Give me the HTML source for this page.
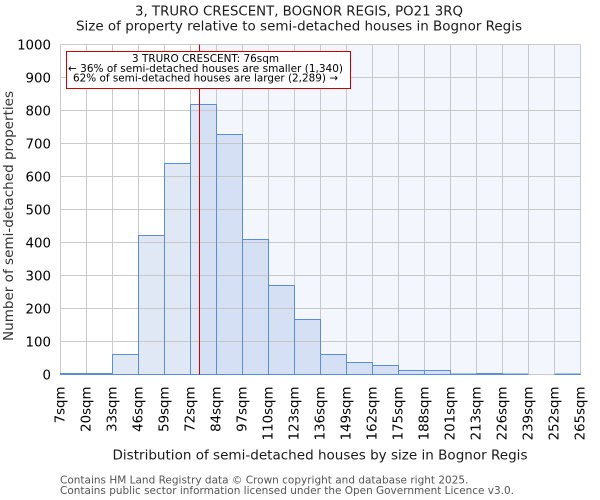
<!DOCTYPE html>
<html>
<head>
<meta charset="utf-8">
<style>
  html, body { margin: 0; padding: 0; background: #ffffff; }
  svg { display: block; }
  text { font-family: "DejaVu Sans", "Liberation Sans", sans-serif; }
</style>
</head>
<body>
<svg width="600" height="500" viewBox="0 0 600 500" xmlns="http://www.w3.org/2000/svg">
  <rect x="0" y="0" width="600" height="500" fill="#ffffff"/>

  <!-- Titles -->
  <text x="299" y="15.5" font-size="13" fill="#1a1a1a" text-anchor="middle" textLength="328" lengthAdjust="spacingAndGlyphs">3, TRURO CRESCENT, BOGNOR REGIS, PO21 3RQ</text>
  <text x="299" y="30.5" font-size="13" fill="#1a1a1a" text-anchor="middle" textLength="446" lengthAdjust="spacingAndGlyphs">Size of property relative to semi-detached houses in Bognor Regis</text>

  <!-- Shaded region right of marker -->
  <rect x="199.5" y="44.5" width="381" height="330" fill="#f3f6fd"/>

  <!-- Bars -->
  <g fill="rgb(100,140,210)" fill-opacity="0.2" stroke="#5b8ed8" stroke-width="1">
    <rect x="60.5" y="373.5" width="26" height="1"/>
    <rect x="86.5" y="373.5" width="26" height="1"/>
    <rect x="112.5" y="354.5" width="26" height="20"/>
    <rect x="138.5" y="235.5" width="26" height="139"/>
    <rect x="164.5" y="163.5" width="26" height="211"/>
    <rect x="190.5" y="104.5" width="26" height="270"/>
    <rect x="216.5" y="134.5" width="26" height="240"/>
    <rect x="242.5" y="239.5" width="26" height="135"/>
    <rect x="268.5" y="285.5" width="26" height="89"/>
    <rect x="294.5" y="319.5" width="26" height="55"/>
    <rect x="320.5" y="354.5" width="26" height="20"/>
    <rect x="346.5" y="362.5" width="26" height="12"/>
    <rect x="372.5" y="365.5" width="26" height="9"/>
    <rect x="398.5" y="370.5" width="26" height="4"/>
    <rect x="424.5" y="370.5" width="26" height="4"/>
    <rect x="450.5" y="374" width="26" height="0.5"/>
    <rect x="476.5" y="373.5" width="26" height="1"/>
    <rect x="502.5" y="374" width="26" height="0.5"/>
    <rect x="554.5" y="374" width="26" height="0.5"/>
  </g>

  <!-- Grid -->
  <g stroke="#c4c4c4" stroke-width="1" stroke-opacity="0.9">
    <line x1="60.5" y1="44.5" x2="60.5" y2="374.5"/>
    <line x1="86.5" y1="44.5" x2="86.5" y2="374.5"/>
    <line x1="112.5" y1="44.5" x2="112.5" y2="374.5"/>
    <line x1="138.5" y1="44.5" x2="138.5" y2="374.5"/>
    <line x1="164.5" y1="44.5" x2="164.5" y2="374.5"/>
    <line x1="190.5" y1="44.5" x2="190.5" y2="374.5"/>
    <line x1="216.5" y1="44.5" x2="216.5" y2="374.5"/>
    <line x1="242.5" y1="44.5" x2="242.5" y2="374.5"/>
    <line x1="268.5" y1="44.5" x2="268.5" y2="374.5"/>
    <line x1="294.5" y1="44.5" x2="294.5" y2="374.5"/>
    <line x1="320.5" y1="44.5" x2="320.5" y2="374.5"/>
    <line x1="346.5" y1="44.5" x2="346.5" y2="374.5"/>
    <line x1="372.5" y1="44.5" x2="372.5" y2="374.5"/>
    <line x1="398.5" y1="44.5" x2="398.5" y2="374.5"/>
    <line x1="424.5" y1="44.5" x2="424.5" y2="374.5"/>
    <line x1="450.5" y1="44.5" x2="450.5" y2="374.5"/>
    <line x1="476.5" y1="44.5" x2="476.5" y2="374.5"/>
    <line x1="502.5" y1="44.5" x2="502.5" y2="374.5"/>
    <line x1="528.5" y1="44.5" x2="528.5" y2="374.5"/>
    <line x1="554.5" y1="44.5" x2="554.5" y2="374.5"/>
    <line x1="580.5" y1="44.5" x2="580.5" y2="374.5"/>
    <line x1="60.5" y1="44.5" x2="580.5" y2="44.5"/>
    <line x1="60.5" y1="77.5" x2="580.5" y2="77.5"/>
    <line x1="60.5" y1="110.5" x2="580.5" y2="110.5"/>
    <line x1="60.5" y1="143.5" x2="580.5" y2="143.5"/>
    <line x1="60.5" y1="176.5" x2="580.5" y2="176.5"/>
    <line x1="60.5" y1="209.5" x2="580.5" y2="209.5"/>
    <line x1="60.5" y1="242.5" x2="580.5" y2="242.5"/>
    <line x1="60.5" y1="275.5" x2="580.5" y2="275.5"/>
    <line x1="60.5" y1="308.5" x2="580.5" y2="308.5"/>
    <line x1="60.5" y1="341.5" x2="580.5" y2="341.5"/>
    <line x1="60.5" y1="374.5" x2="580.5" y2="374.5"/>
  </g>

  <!-- Re-draw bar outlines on top of grid -->
  <g fill="none" stroke="#5b8ed8" stroke-width="1">
    <rect x="60.5" y="373.5" width="26" height="1"/>
    <rect x="86.5" y="373.5" width="26" height="1"/>
    <rect x="112.5" y="354.5" width="26" height="20"/>
    <rect x="138.5" y="235.5" width="26" height="139"/>
    <rect x="164.5" y="163.5" width="26" height="211"/>
    <rect x="190.5" y="104.5" width="26" height="270"/>
    <rect x="216.5" y="134.5" width="26" height="240"/>
    <rect x="242.5" y="239.5" width="26" height="135"/>
    <rect x="268.5" y="285.5" width="26" height="89"/>
    <rect x="294.5" y="319.5" width="26" height="55"/>
    <rect x="320.5" y="354.5" width="26" height="20"/>
    <rect x="346.5" y="362.5" width="26" height="12"/>
    <rect x="372.5" y="365.5" width="26" height="9"/>
    <rect x="398.5" y="370.5" width="26" height="4"/>
    <rect x="424.5" y="370.5" width="26" height="4"/>
    <line x1="450.5" y1="374.5" x2="476.5" y2="374.5"/>
    <rect x="476.5" y="373.5" width="26" height="1"/>
    <line x1="502.5" y1="374.5" x2="528.5" y2="374.5"/>
    <line x1="554.5" y1="374.5" x2="580.5" y2="374.5"/>
  </g>

  <!-- Marker line -->
  <line x1="199.5" y1="44.5" x2="199.5" y2="374.5" stroke="#cc0000" stroke-width="1"/>

  <!-- Annotation box -->
  <rect x="66.5" y="51.5" width="284" height="37" fill="#ffffff" stroke="#cc0000" stroke-width="1"/>
  <text x="205.5" y="62" font-size="10.67" fill="#000" text-anchor="middle" textLength="147" lengthAdjust="spacingAndGlyphs">3 TRURO CRESCENT: 76sqm</text>
  <text x="205.5" y="72" font-size="10.67" fill="#000" text-anchor="middle" textLength="275" lengthAdjust="spacingAndGlyphs">← 36% of semi-detached houses are smaller (1,340)</text>
  <text x="205.5" y="81.7" font-size="10.67" fill="#000" text-anchor="middle" textLength="265" lengthAdjust="spacingAndGlyphs">62% of semi-detached houses are larger (2,289) →</text>

  <!-- Y tick labels -->
  <g font-size="13.33" fill="#000" text-anchor="end">
    <text x="51" y="49.5">1000</text>
    <text x="51" y="82.5">900</text>
    <text x="51" y="115.5">800</text>
    <text x="51" y="148.5">700</text>
    <text x="51" y="181.5">600</text>
    <text x="51" y="214.5">500</text>
    <text x="51" y="247.5">400</text>
    <text x="51" y="280.5">300</text>
    <text x="51" y="313.5">200</text>
    <text x="51" y="346.5">100</text>
    <text x="51" y="379.5">0</text>
  </g>

  <!-- Y axis label -->
  <text transform="translate(13,216) rotate(-90)" font-size="13.33" fill="#333" text-anchor="middle" textLength="250" lengthAdjust="spacingAndGlyphs">Number of semi-detached properties</text>

  <!-- X tick labels -->
  <g font-size="13.33" fill="#000" text-anchor="end">
    <text transform="translate(64.5,386.5) rotate(-90)">7sqm</text>
    <text transform="translate(90.5,386.5) rotate(-90)">20sqm</text>
    <text transform="translate(116.5,386.5) rotate(-90)">33sqm</text>
    <text transform="translate(142.5,386.5) rotate(-90)">46sqm</text>
    <text transform="translate(168.5,386.5) rotate(-90)">59sqm</text>
    <text transform="translate(194.5,386.5) rotate(-90)">72sqm</text>
    <text transform="translate(220.5,386.5) rotate(-90)">84sqm</text>
    <text transform="translate(246.5,386.5) rotate(-90)">97sqm</text>
    <text transform="translate(272.5,386.5) rotate(-90)">110sqm</text>
    <text transform="translate(298.5,386.5) rotate(-90)">123sqm</text>
    <text transform="translate(324.5,386.5) rotate(-90)">136sqm</text>
    <text transform="translate(350.5,386.5) rotate(-90)">149sqm</text>
    <text transform="translate(376.5,386.5) rotate(-90)">162sqm</text>
    <text transform="translate(402.5,386.5) rotate(-90)">175sqm</text>
    <text transform="translate(428.5,386.5) rotate(-90)">188sqm</text>
    <text transform="translate(454.5,386.5) rotate(-90)">201sqm</text>
    <text transform="translate(480.5,386.5) rotate(-90)">213sqm</text>
    <text transform="translate(506.5,386.5) rotate(-90)">226sqm</text>
    <text transform="translate(532.5,386.5) rotate(-90)">239sqm</text>
    <text transform="translate(558.5,386.5) rotate(-90)">252sqm</text>
    <text transform="translate(584.5,386.5) rotate(-90)">265sqm</text>
  </g>

  <!-- X axis title -->
  <text x="320" y="459.5" font-size="13.33" fill="#1a1a1a" text-anchor="middle" textLength="415" lengthAdjust="spacingAndGlyphs">Distribution of semi-detached houses by size in Bognor Regis</text>

  <!-- Footer -->
  <text x="60" y="483.5" font-size="10.5" fill="#555">Contains HM Land Registry data © Crown copyright and database right 2025.</text>
  <text x="60" y="494" font-size="10.5" fill="#555" textLength="454" lengthAdjust="spacingAndGlyphs">Contains public sector information licensed under the Open Government Licence v3.0.</text>
</svg>
</body>
</html>
